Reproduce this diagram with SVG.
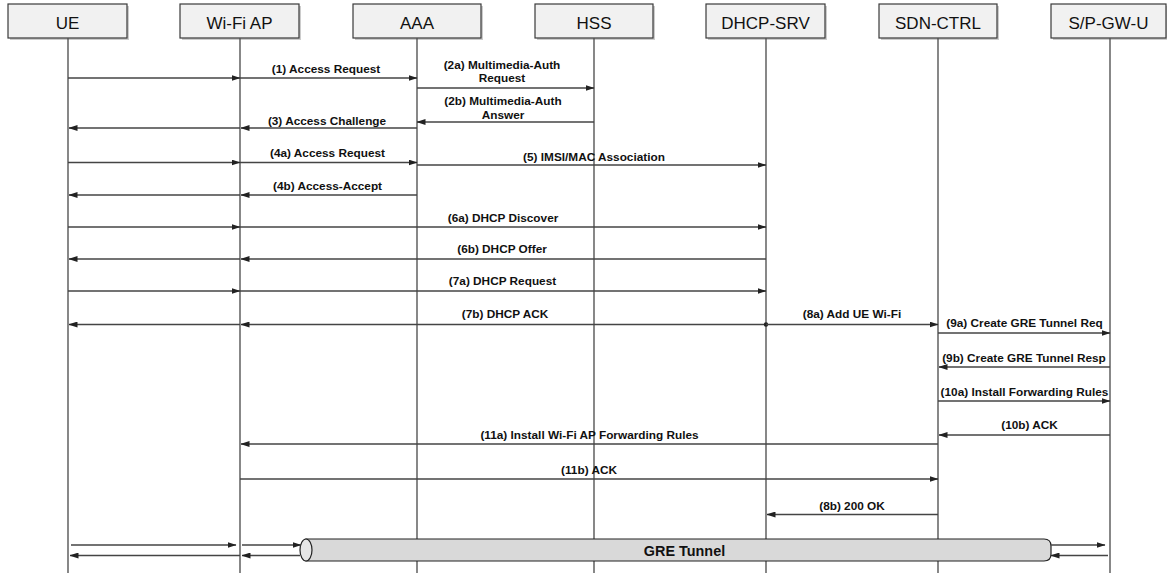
<svg xmlns="http://www.w3.org/2000/svg" width="1167" height="573" viewBox="0 0 1167 573">
<defs>
<marker id="ah" markerWidth="9" markerHeight="6" refX="8.5" refY="3" orient="auto" markerUnits="userSpaceOnUse">
<path d="M0,0 L9,3 L0,6 z" fill="#222"/>
</marker>
<style>
.box{fill:#f1f1f1;stroke:#3a3a3a;stroke-width:1.2}
.sh{fill:#aaa;opacity:0.6}
.life{stroke:#555;stroke-width:1.4;fill:none}
.hd{font-family:"Liberation Sans",Arial,sans-serif;font-size:17px;fill:#111;text-anchor:middle}
.msg{stroke:#444;stroke-width:1.4;fill:none;marker-end:url(#ah)}
.ln{stroke:#444;stroke-width:1.4;fill:none}
.lb{font-family:"Liberation Sans",Arial,sans-serif;font-size:11.8px;font-weight:bold;fill:#111;text-anchor:middle}
.tun{fill:#d9d9d9;stroke:#222;stroke-width:1.2}
</style>
</defs>
<rect width="1167" height="573" fill="#fff"/>

<g id="node-ue">
<rect class="sh" x="10" y="6" width="119" height="34"/>
<rect class="box" x="8" y="4" width="119" height="34"/>
<text class="hd" x="67.5" y="28.5">UE</text>
<line class="life" x1="68" y1="38" x2="68" y2="573"/>
</g>
<g id="node-wifiap">
<rect class="sh" x="182" y="6" width="119" height="34"/>
<rect class="box" x="180" y="4" width="119" height="34"/>
<text class="hd" x="239.5" y="28.5">Wi-Fi AP</text>
<line class="life" x1="240" y1="38" x2="240" y2="573"/>
</g>
<g id="node-aaa">
<rect class="sh" x="355" y="6" width="128" height="34"/>
<rect class="box" x="353" y="4" width="128" height="34"/>
<text class="hd" x="417" y="28.5">AAA</text>
<line class="life" x1="417" y1="38" x2="417" y2="573"/>
</g>
<g id="node-hss">
<rect class="sh" x="537" y="6" width="118" height="34"/>
<rect class="box" x="535" y="4" width="118" height="34"/>
<text class="hd" x="594" y="28.5">HSS</text>
<line class="life" x1="594" y1="38" x2="594" y2="573"/>
</g>
<g id="node-dhcp">
<rect class="sh" x="708" y="6" width="119" height="34"/>
<rect class="box" x="706" y="4" width="119" height="34"/>
<text class="hd" x="765.5" y="28.5">DHCP-SRV</text>
<line class="life" x1="766" y1="38" x2="766" y2="573"/>
</g>
<g id="node-sdn">
<rect class="sh" x="881" y="6" width="118" height="34"/>
<rect class="box" x="879" y="4" width="118" height="34"/>
<text class="hd" x="938" y="28.5">SDN-CTRL</text>
<line class="life" x1="938" y1="38" x2="938" y2="573"/>
</g>
<g id="node-spgw">
<rect class="sh" x="1053" y="6" width="116" height="34"/>
<rect class="box" x="1051" y="4" width="115" height="34"/>
<text class="hd" x="1108.5" y="28.5">S/P-GW-U</text>
<line class="life" x1="1110" y1="38" x2="1110" y2="573"/>
</g>

<g id="gre-tunnel">
<path class="tun" d="M306,539 L1044,539 Q1051,539 1051,546 L1051,554 Q1051,561 1044,561 L306,561 Z"/>
<ellipse cx="306" cy="550" rx="6" ry="11" fill="#e6e6e6" stroke="#222" stroke-width="1.2"/>
<text class="lb" style="font-size:14.4px" x="684.5" y="556">GRE Tunnel</text>
</g>

<g id="connectors">
<!-- (1) -->
<line class="msg" x1="68" y1="78" x2="240" y2="78"/>
<line class="msg" x1="240" y1="78" x2="417" y2="78"/>
<!-- (2a) -->
<line class="msg" x1="417" y1="88" x2="594" y2="88"/>
<!-- (2b) -->
<line class="msg" x1="594" y1="122" x2="417" y2="122"/>
<!-- (3) -->
<line class="msg" x1="417" y1="128" x2="241" y2="128"/>
<line class="msg" x1="240" y1="128" x2="69" y2="128"/>
<!-- (4a) -->
<line class="msg" x1="68" y1="162.5" x2="240" y2="162.5"/>
<line class="msg" x1="240" y1="162.5" x2="417" y2="162.5"/>
<!-- (5) -->
<line class="msg" x1="417" y1="165" x2="766" y2="165"/>
<!-- (4b) -->
<line class="msg" x1="417" y1="195" x2="241" y2="195"/>
<line class="msg" x1="240" y1="195" x2="69" y2="195"/>
<!-- (6a) -->
<line class="msg" x1="68" y1="227" x2="240" y2="227"/>
<line class="msg" x1="240" y1="227" x2="766" y2="227"/>
<!-- (6b) -->
<line class="msg" x1="766" y1="259" x2="241" y2="259"/>
<line class="msg" x1="240" y1="259" x2="69" y2="259"/>
<!-- (7a) -->
<line class="msg" x1="68" y1="291" x2="240" y2="291"/>
<line class="msg" x1="240" y1="291" x2="766" y2="291"/>
<!-- (7b) -->
<line class="msg" x1="766" y1="324.5" x2="241" y2="324.5"/>
<line class="msg" x1="240" y1="324.5" x2="69" y2="324.5"/>
<circle cx="766" cy="324.5" r="2.2" fill="#222"/>
<!-- (8a) -->
<line class="msg" x1="766" y1="324.5" x2="938" y2="324.5"/>
<!-- (9a) -->
<line class="msg" x1="938" y1="333" x2="1110" y2="333"/>
<!-- (9b) -->
<line class="msg" x1="1110" y1="367" x2="939" y2="367"/>
<!-- (10a) -->
<line class="msg" x1="938" y1="401" x2="1110" y2="401"/>
<!-- (10b) -->
<line class="msg" x1="1110" y1="435" x2="939" y2="435"/>
<!-- (11a) -->
<line class="msg" x1="938" y1="444" x2="241" y2="444"/>
<!-- (11b) -->
<line class="msg" x1="240" y1="479" x2="938" y2="479"/>
<!-- (8b) -->
<line class="msg" x1="938" y1="514.5" x2="767" y2="514.5"/>
<!-- tunnel traffic -->
<line class="msg" x1="71" y1="545" x2="236" y2="545"/>
<line class="msg" x1="242" y1="545" x2="301" y2="545"/>
<line class="msg" x1="300" y1="555.5" x2="242" y2="555.5"/>
<line class="msg" x1="240" y1="555.5" x2="70" y2="555.5"/>
<line class="msg" x1="1051" y1="545" x2="1105" y2="545"/>
<line class="msg" x1="1108" y1="555.5" x2="1051" y2="555.5"/>
</g>

<g id="labels">
<text class="lb" x="326" y="73">(1) Access Request</text>
<text class="lb" x="502" y="69">(2a) Multimedia-Auth</text>
<text class="lb" x="502" y="82">Request</text>
<text class="lb" x="503" y="105">(2b) Multimedia-Auth</text>
<text class="lb" x="503" y="118.5">Answer</text>
<text class="lb" x="327" y="125">(3) Access Challenge</text>
<text class="lb" x="327.5" y="156.5">(4a) Access Request</text>
<text class="lb" x="594" y="160.5">(5) IMSI/MAC Association</text>
<text class="lb" x="327.5" y="190">(4b) Access-Accept</text>
<text class="lb" x="503" y="222">(6a) DHCP Discover</text>
<text class="lb" x="502" y="253">(6b) DHCP Offer</text>
<text class="lb" x="502.5" y="285">(7a) DHCP Request</text>
<text class="lb" x="505" y="318">(7b) DHCP ACK</text>
<text class="lb" x="852" y="317.5">(8a) Add UE Wi-Fi</text>
<text class="lb" x="1024.5" y="327">(9a) Create GRE Tunnel Req</text>
<text class="lb" x="1024" y="362">(9b) Create GRE Tunnel Resp</text>
<text class="lb" x="1024.5" y="396">(10a) Install Forwarding Rules</text>
<text class="lb" x="1029.5" y="429">(10b) ACK</text>
<text class="lb" x="589.5" y="438.5">(11a) Install Wi-Fi AP Forwarding Rules</text>
<text class="lb" x="589" y="474">(11b) ACK</text>
<text class="lb" x="852" y="510">(8b) 200 OK</text>
</g>
</svg>
